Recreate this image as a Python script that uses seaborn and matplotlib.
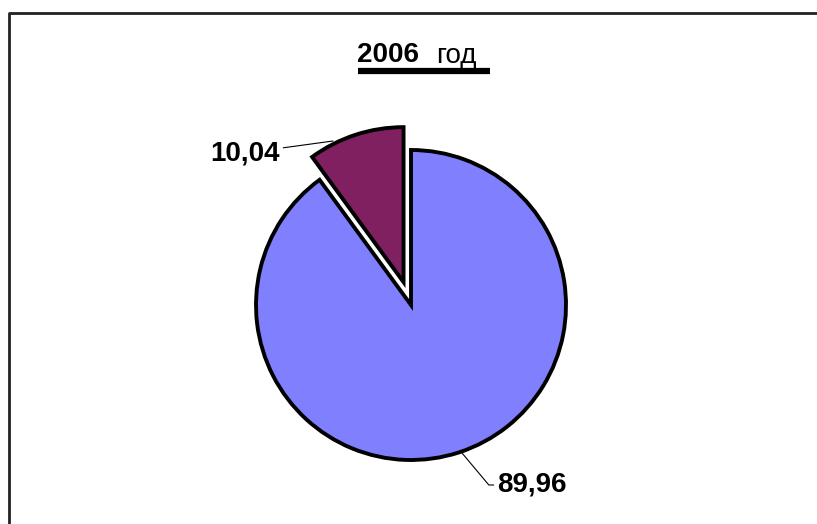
import matplotlib
matplotlib.use('Agg')
import matplotlib.pyplot as plt
import seaborn as sns
from matplotlib.lines import Line2D

# данные
labels = ['89,96', '10,04']
values = [89.96, 10.04]
colors = ['#8080FF', '#802060']
title_year = '2006'
title_word = 'год'

sns.set_theme(style='white')
plt.rcParams['font.family'] = ['Liberation Sans', 'DejaVu Sans']
plt.rcParams['text.color'] = 'black'

W, H = 817, 524
CX, CY, R = 411, 305, 155  # центр и радиус круга в пикселях


def to_data(px, py):
    return (px - CX) / R, (CY - py) / R


fig = plt.figure(figsize=(W / 100, H / 100), dpi=100)
ax = fig.add_axes([0, 0, 1, 1])

wedges, _ = ax.pie(values, colors=colors, startangle=90, counterclock=False,
                   explode=[0, 0.155], radius=1,
                   wedgeprops=dict(edgecolor='black', linewidth=2.8))
ax.set_xlim(-CX / R, (W - CX) / R)
ax.set_ylim(-(H - CY) / R, CY / R)
ax.set_aspect('auto')
ax.axis('off')

# подписи с выносками
ax.annotate(labels[1], xy=to_data(333, 141), xytext=to_data(280, 153),
            ha='right', va='center', fontsize=20, fontweight='bold',
            color='black',
            arrowprops=dict(arrowstyle='-', color='black', lw=0.8,
                            shrinkA=0, shrinkB=0))
ax.annotate(labels[0], xy=to_data(462, 453), xytext=to_data(497, 485),
            ha='left', va='center', fontsize=20, fontweight='bold',
            color='black',
            arrowprops=dict(arrowstyle='-', color='black', lw=0.8,
                            shrinkA=0, shrinkB=0,
                            connectionstyle='angle,angleA=0,angleB=-50,rad=0'))

# заголовок
fig.text(419 / W, 1 - 55 / H, title_year, ha='right', va='center',
         fontsize=20, fontweight='bold', color='black')
fig.text(436 / W, 1 - 56 / H, title_word, ha='left', va='center',
         fontsize=20, color='black')
fig.add_artist(Line2D([358 / W, 490 / W], [1 - 71 / H, 1 - 71 / H],
                      color='black', lw=4.5, solid_capstyle='butt',
                      transform=fig.transFigure))

# рамка
fig.add_artist(Line2D([9 / W, 9 / W, 1], [0, 1 - 12.5 / H, 1 - 12.5 / H],
                      color='#222222', lw=2, transform=fig.transFigure))

fig.savefig('out.png', dpi=100)
